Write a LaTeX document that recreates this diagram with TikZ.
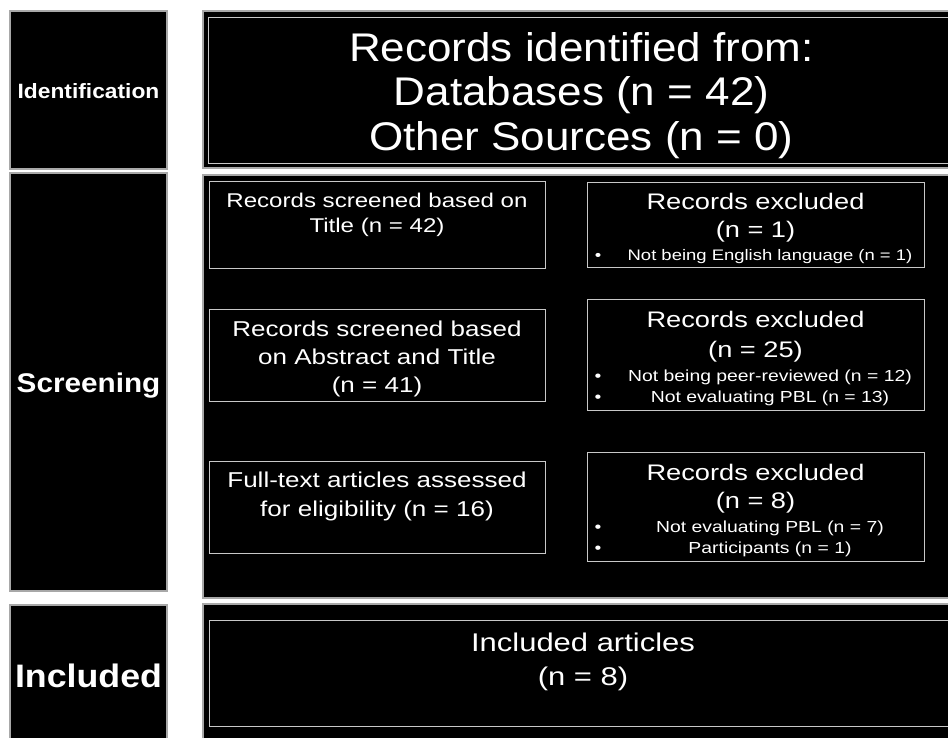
\documentclass[tikz,border=0pt]{standalone}
\usepackage{fontspec}
\setmainfont{Liberation Sans}
\newfontfamily\bodyfont[FakeStretch=1.21]{Liberation Sans}
\newfontfamily\titlefont[FakeStretch=1.1]{Liberation Sans}
\newfontfamily\labelfont[FakeStretch=1.1]{Liberation Sans}
\definecolor{edgegray}{HTML}{A8A8A8}
\definecolor{framegray}{HTML}{C8C8C8}
\tikzset{
  panel/.style={draw=edgegray, line width=1.3pt, fill=black, inner sep=0pt, outer sep=0pt, anchor=north west},
  frame/.style={draw=framegray, line width=0.9pt, fill=black, inner sep=0pt, outer sep=0pt, anchor=north west},
  txt/.style={text=white, inner sep=0pt, anchor=base},
  titletxt/.style={txt, font=\titlefont\fontsize{40}{44}\selectfont},
  boxtxt/.style={txt, font=\bodyfont\fontsize{21.5}{26}\selectfont},
  smallboxtxt/.style={txt, font=\bodyfont\fontsize{19.9}{24}\selectfont},
  headtxt/.style={txt, font=\bodyfont\fontsize{22.5}{28}\selectfont},
  bultxt/.style={txt, font=\bodyfont\fontsize{16}{20}\selectfont},
  smallbultxt/.style={txt, font=\bodyfont\fontsize{15.25}{19}\selectfont},
  incltxt/.style={txt, font=\bodyfont\fontsize{25.6}{30}\selectfont},
  labtxt/.style={txt, font=\labelfont\bfseries}
}
\begin{document}
\begin{tikzpicture}[x=1pt,y=-1pt]
\clip (0,0) rectangle (948,737);
\fill[white] (0,0) rectangle (948,737);

% stage labels on the left
\node[panel, minimum width=157, minimum height=158] (labid) at (10,11) {};
\node[panel, minimum width=157, minimum height=418] (labscr) at (10,173) {};
\node[panel, minimum width=157, minimum height=140] (labinc) at (10,605) {};
\node[labtxt, font=\labelfont\bfseries\fontsize{20.7}{24}\selectfont] (labidt) at (88.5,98.5) {Identification};
\node[labtxt, font=\labelfont\bfseries\fontsize{27}{32}\selectfont] (labscrt) at (88.5,392.5) {Screening};
\node[labtxt, font=\labelfont\bfseries\fontsize{32.5}{38}\selectfont] (labinct) at (88.5,687.5) {Included};

% identification panel
\node[panel, minimum width=760, minimum height=157] (idpanel) at (203,11) {};
\node[frame, minimum width=747, minimum height=146] (idframe) at (208,17) {};
\node[titletxt] (id1) at (581.5,61.5) {Records identified from:};
\node[titletxt] (id2) at (581.5,105.5) {Databases (n = 42)};
\node[titletxt] (id3) at (581.5,150) {Other Sources (n = 0)};

% screening panel
\node[panel, minimum width=760, minimum height=423] (scrpanel) at (203,175) {};

\node[frame, minimum width=336, minimum height=87] (scr1) at (209,181) {};
\node[smallboxtxt] (scr1a) at (377,207) {Records screened based on};
\node[smallboxtxt] (scr1b) at (377,232.5) {Title (n = 42)};

\node[frame, minimum width=337, minimum height=85] (exc1) at (587,182) {};
\node[headtxt] (exc1a) at (755.5,209) {Records excluded};
\node[headtxt] (exc1b) at (755.5,237) {(n = 1)};
\node[smallbultxt] (exc1d) at (598,260) {•};
\node[smallbultxt] (exc1c) at (770,260) {Not being English language (n = 1)};

\node[frame, minimum width=336, minimum height=92] (scr2) at (209,309) {};
\node[boxtxt] (scr2a) at (377,336) {Records screened based};
\node[boxtxt] (scr2b) at (377,364) {on Abstract and Title};
\node[boxtxt] (scr2c) at (377,392) {(n = 41)};

\node[frame, minimum width=337, minimum height=111] (exc2) at (587,299) {};
\node[headtxt] (exc2a) at (755.5,327.5) {Records excluded};
\node[headtxt] (exc2b) at (755.5,357) {(n = 25)};
\node[bultxt] (exc2d) at (598,381) {•};
\node[bultxt] (exc2c) at (770,381) {Not being peer-reviewed (n = 12)};
\node[bultxt] (exc2f) at (598,402.5) {•};
\node[bultxt] (exc2e) at (770,402.5) {Not evaluating PBL (n = 13)};

\node[frame, minimum width=336, minimum height=92] (scr3) at (209,461) {};
\node[boxtxt] (scr3a) at (377,487.5) {Full-text articles assessed};
\node[boxtxt] (scr3b) at (377,516) {for eligibility (n = 16)};

\node[frame, minimum width=337, minimum height=109] (exc3) at (587,452) {};
\node[headtxt] (exc3a) at (755.5,480.5) {Records excluded};
\node[headtxt] (exc3b) at (755.5,508.5) {(n = 8)};
\node[bultxt] (exc3d) at (598,532) {•};
\node[bultxt] (exc3c) at (770,532) {Not evaluating PBL (n = 7)};
\node[bultxt] (exc3f) at (598,553) {•};
\node[bultxt] (exc3e) at (770,553) {Participants (n = 1)};

% included panel
\node[panel, minimum width=760, minimum height=140] (incpanel) at (203,604) {};
\node[frame, minimum width=748, minimum height=106] (incframe) at (209,620) {};
\node[incltxt] (inc1) at (583,651) {Included articles};
\node[incltxt] (inc2) at (583,685) {(n = 8)};
\end{tikzpicture}
\end{document}
